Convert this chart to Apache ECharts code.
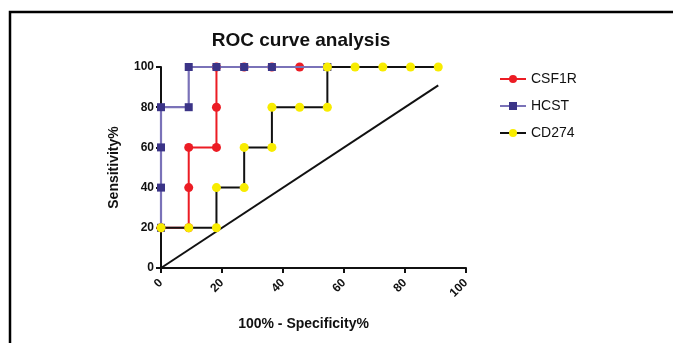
<!DOCTYPE html>
<html>
<head>
<meta charset="utf-8">
<script src="https://cdn.jsdelivr.net/npm/echarts@6/dist/echarts.min.js"></script>
<style>
  html, body { margin: 0; padding: 0; background: #fff; }
  #chart { width: 673px; height: 343px; }
</style>
</head>
<body>
<div id="chart"></div>
<script>
// 100% - Specificity% steps (11 negatives -> 100/11)
const step = 100 / 11;
const xTicks = [0, 20, 40, 60, 80, 100];

// [x index (in steps), sensitivity]
const csf1rPts = [[0, 20], [1, 20], [1, 40], [1, 60], [2, 60], [2, 80], [2, 100], [3, 100], [4, 100], [5, 100]];
const hcstPts = [[0, 20], [0, 40], [0, 60], [0, 80], [1, 80], [1, 100], [2, 100], [3, 100], [4, 100], [6, 100]];
const cd274Pts = [[0, 20], [1, 20], [2, 20], [2, 40], [3, 40], [3, 60], [4, 60], [4, 80], [5, 80], [6, 80], [6, 100], [7, 100], [8, 100], [9, 100], [10, 100]];
// chance line, real coordinates
const refLine = [[0, 0], [90.9, 90.9]];

const toXY = pts => pts.map(p => [p[0] * step, p[1]]);
const font = 'Liberation Sans, Arial, sans-serif';

let chart = echarts.init(document.getElementById('chart'));
let option = {
  animation: false,
  backgroundColor: '#fff',
  title: {
    text: 'ROC curve analysis',
    left: 296,
    top: 26,
    textAlign: 'center',
    textStyle: { fontFamily: font, fontSize: 19, fontWeight: 'bold', color: '#111' }
  },
  legend: {
    orient: 'vertical',
    left: 494,
    top: 67,
    itemWidth: 26,
    itemHeight: 10,
    itemGap: 13,
    textStyle: { fontFamily: font, fontSize: 14, color: '#111' },
    data: ['CSF1R', 'HCST', 'CD274']
  },
  graphic: [{
    type: 'polyline',
    shape: { points: [[10, 343], [10, 12], [673, 12]] },
    style: { stroke: '#000', lineWidth: 2.5, fill: null }
  }],
  grid: { left: 161, right: 207, top: 67, bottom: 75 },
  xAxis: {
    type: 'value',
    min: 0, max: 100, interval: 20,
    name: '100% - Specificity%',
    nameLocation: 'middle',
    nameGap: 49,
    nameTextStyle: { fontFamily: font, fontSize: 14, fontWeight: 'bold', color: '#111', padding: [0, 20, 0, 0] },
    splitLine: { show: false },
    axisLine: { lineStyle: { color: '#111', width: 2 } },
    axisTick: { show: true, length: 5, lineStyle: { color: '#111', width: 2 } },
    axisLabel: {
      rotate: 45, margin: 13,
      fontFamily: font, fontSize: 12, fontWeight: 'bold', color: '#111',
      formatter: v => xTicks.indexOf(v) >= 0 ? String(v) : ''
    }
  },
  yAxis: {
    type: 'value',
    min: 0, max: 100, interval: 20,
    name: 'Sensitivity%',
    nameLocation: 'middle',
    nameGap: 40,
    nameTextStyle: { fontFamily: font, fontSize: 14, fontWeight: 'bold', color: '#111' },
    splitLine: { show: false },
    axisLine: { show: true, lineStyle: { color: '#111', width: 2 } },
    axisTick: { show: true, length: 5, lineStyle: { color: '#111', width: 2 } },
    axisLabel: { margin: 7, fontFamily: font, fontSize: 12, fontWeight: 'bold', color: '#111' }
  },
  series: [
    {
      type: 'line',
      data: refLine,
      showSymbol: false,
      silent: true,
      lineStyle: { color: '#111', width: 2 },
      z: 1
    },
    {
      name: 'CSF1R',
      type: 'line',
      data: toXY(csf1rPts),
      symbol: 'circle',
      symbolSize: 9,
      itemStyle: { color: '#ec1c24' },
      lineStyle: { color: '#ec1c24', width: 2 },
      z: 2
    },
    {
      name: 'HCST',
      type: 'line',
      data: toXY(hcstPts),
      symbol: 'rect',
      symbolSize: 8,
      itemStyle: { color: '#3b3487' },
      lineStyle: { color: '#7a72b8', width: 2.2 },
      z: 3
    },
    {
      name: 'CD274',
      type: 'line',
      data: toXY(cd274Pts),
      symbol: 'circle',
      symbolSize: 9,
      itemStyle: { color: '#f8ec00' },
      lineStyle: { color: '#111', width: 2 },
      z: 4
    }
  ]
};
chart.setOption(option);
</script>
</body>
</html>
